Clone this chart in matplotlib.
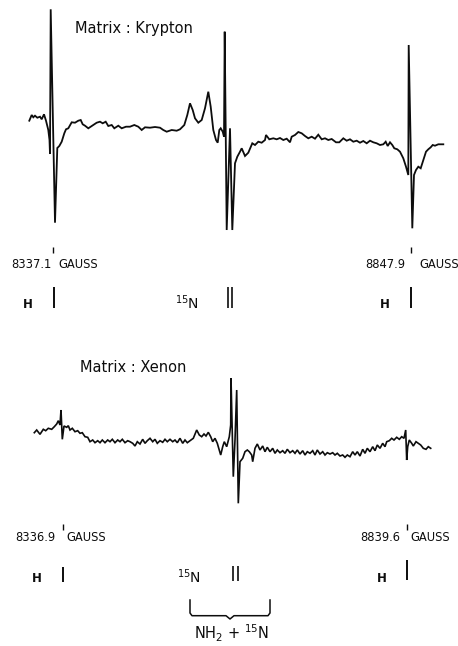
import numpy as np
import matplotlib
matplotlib.use("Agg")
import matplotlib.pyplot as plt

# Trace of the krypton spectrum (field position, signal)
kr_x = [29.3, 31.7, 33.3, 35, 37.3, 40, 41.7, 44, 46, 48.3, 49.5, 50, 50.7, 55,
        57.3, 59.3, 61.7, 64.3, 66, 68.3, 71.7, 75, 78.3, 80.7, 82.7, 85, 88.3,
        91.7, 96.7, 100, 102.7, 105.7, 108.3, 111.7, 114.3, 118.3, 121.7, 126,
        130, 134.3, 138.3, 141.7, 145, 150, 155, 160, 163.3, 166.7, 171.7, 176.7,
        180, 184.3, 187.3, 190, 192.7, 195, 198.3, 201.7, 205, 208.3, 210.7,
        213.3, 216, 217.7, 219.3, 220.7, 222.7, 224, 224.7, 226.7, 230, 232.3,
        235, 237.3, 240, 241.7, 245, 248.3, 252.3, 255, 258.3, 261.7, 265, 266,
        269.3, 273.3, 276.7, 280, 283.3, 286.7, 290, 291.7, 295, 298.3, 301.7,
        305, 308.3, 311.7, 315, 318.3, 321.7, 325, 328.3, 331.7, 336, 339.3,
        343.3, 346.7, 350, 353.3, 356.7, 360, 363.3, 366.7, 370, 373.3, 376.7,
        380, 383.3, 385.7, 387.7, 390, 392.3, 394.3, 397.3, 400, 403.3, 406,
        408.3, 408.7, 412.3, 414, 416, 418.3, 420.7, 423.3, 426, 428.3, 430.7,
        432.7, 435, 438.3, 443.3]
kr_y = [120.7, 115, 117.3, 115.7, 117.7, 116.7, 119.3, 114.3, 120.7, 130, 140,
        154, 9.3, 222.7, 148, 146, 141.7, 133.3, 129.3, 128.3, 122.3, 122.7,
        120.7, 120, 124.3, 125.7, 128.3, 126, 122.7, 121.7, 123.3, 121.7, 126,
        125, 128.3, 125.7, 128.3, 126.7, 126.7, 125, 126.7, 130, 127.3, 127.7,
        127, 127.7, 130, 131.7, 130, 130.7, 129.3, 125, 115, 103.3, 110, 118.3,
        122.7, 120, 108.3, 91.7, 106.7, 130, 140, 142.7, 130, 128.3, 131.7,
        136.7, 31.7, 230, 128.3, 230, 163.3, 156.7, 151.7, 148.3, 156, 152.7,
        143.3, 145, 141.7, 142.7, 140, 135, 139.3, 138.3, 139.3, 138, 140,
        138.7, 142.3, 136.7, 135, 132, 133.3, 136, 138.3, 136.7, 138.7, 134.7,
        139.3, 138.3, 140, 139, 142.3, 142.3, 138.3, 140.7, 139.3, 141.7, 140.7,
        142.7, 141, 143.3, 140.7, 142.3, 143.3, 145, 144.3, 141.7, 146, 142.3,
        145, 148.3, 149.3, 151.7, 158.3, 166.7, 175, 45, 228.3, 175, 170, 166.7,
        168.3, 160, 151.7, 149.3, 147.3, 145, 145.7, 144.3, 144.3]

# Trace of the xenon spectrum
xe_x = [34.3, 36.7, 40, 43.3, 45.7, 48.3, 51.7, 54.3, 56.7, 58.3, 60, 61, 62.3,
        64, 66.7, 68.3, 70, 72.3, 75, 77.7, 80, 82.3, 85, 87.7, 90, 92.7, 95,
        97.7, 100, 102.3, 105, 107.7, 110, 112.3, 115, 117.7, 120, 122.3, 125,
        127.7, 130, 132.7, 135, 137.3, 140, 142.7, 145, 147.3, 150, 152.7, 155,
        157.3, 160, 162.7, 165, 167.3, 170, 172.7, 175, 177.3, 180, 182.7, 185,
        187.3, 190, 193.3, 196.7, 199.3, 201.7, 204, 206, 208.3, 210.7, 212.7,
        215, 217.3, 220.7, 222.7, 224.3, 226.7, 229.3, 230.7, 231, 233.3, 235,
        236.7, 238.3, 240, 242.7, 245, 247.3, 249.3, 251.7, 252.7, 255, 257.3,
        260, 262.7, 265, 267.3, 270, 272.7, 275, 277.3, 280, 282.7, 285, 287.3,
        290, 292.7, 295, 297.3, 300, 302.7, 305, 307.3, 310, 312.7, 315, 317.3,
        320, 322.7, 325, 327.3, 330, 332.7, 335, 337.3, 340, 342.7, 345, 347.3,
        350, 352.7, 355, 357.3, 360, 362.7, 365, 367.3, 370, 372.7, 375, 377.3,
        380, 382.7, 385, 386.7, 389.3, 391.7, 394, 396.7, 399.3, 401.7, 404,
        405.7, 406.7, 407.7, 409.3, 411.7, 413.3, 416, 418.3, 420.7, 423.3, 426,
        428.3, 430.7]
xe_y = [432.7, 430, 434.3, 429.3, 430.7, 428.3, 429.3, 426.7, 424, 420.7, 425,
        410, 439.3, 426, 427.3, 425.7, 430, 428.3, 431.7, 430.7, 433.3, 432.7,
        436.7, 437.3, 441.7, 440, 442.7, 440.7, 442.7, 440, 442.7, 440, 441.7,
        439.3, 442.7, 440, 441.7, 439.3, 442.7, 440.7, 441.7, 443.3, 446, 441.7,
        444, 439.3, 443.3, 440.7, 438.3, 441.7, 439.3, 443.3, 440.7, 442.3,
        439.3, 441.7, 439.3, 441.7, 440, 442.7, 438.3, 443.3, 440, 442.7, 440.7,
        438.3, 430, 435, 436.7, 434, 436, 432.3, 436.7, 441.7, 438.3, 443.3, 455,
        446.7, 441.7, 446.7, 436.7, 425, 378.3, 476.7, 440, 390, 503.3, 461.7,
        458.3, 451.7, 450, 451.7, 455, 461.7, 448.3, 444, 450, 446, 451.7, 447.3,
        451.7, 448.3, 453.3, 450, 452.7, 450.7, 453.3, 449.3, 452.7, 450.7,
        453.3, 450, 454, 450.7, 455, 451.7, 453.3, 450.7, 455, 450, 454, 451.7,
        455, 452.7, 454, 452.7, 455, 453.3, 456, 455, 457.3, 455, 456.7, 451.7,
        455, 451.7, 456, 449.3, 453.3, 448.3, 451.7, 446.7, 450.7, 445, 448.3,
        443.3, 446.7, 441.7, 440.7, 438.3, 440, 437.3, 439.3, 436.7, 438.3, 430,
        460, 446.7, 440, 443.3, 446, 441.7, 443.3, 445, 448.3, 449.3, 446.7,
        448.3]

# Field markers
kr_fields = ["8337.1", "8847.9"]
xe_fields = ["8336.9", "8839.6"]

fig = plt.figure(figsize=(4.58, 6.46), dpi=100)
ax = fig.add_axes([0, 0, 1, 1])
ax.set_xlim(0, 458)
ax.set_ylim(646, 0)
ax.axis("off")

ink = "#0d0d0d"
ax.plot(kr_x, kr_y, color=ink, lw=1.3, solid_joinstyle="miter")
ax.plot(xe_x, xe_y, color=ink, lw=1.2, solid_joinstyle="miter")

# Panel titles
ax.text(75, 32.5, "Matrix : Krypton", fontsize=10.5, color=ink, va="baseline")
ax.text(80, 371.7, "Matrix : Xenon", fontsize=10.5, color=ink, va="baseline")

lab = dict(fontsize=8.3, color=ink, va="baseline")

# Krypton field scale
ax.text(11.7, 267.7, kr_fields[0], **lab)
ax.text(58.3, 267.7, "GAUSS", **lab)
ax.text(365.7, 267.7, kr_fields[1], **lab)
ax.text(419, 267.7, "GAUSS", **lab)
ax.vlines([53.3, 410.7], 246.7, 253.3, color=ink, lw=1.0)

# Krypton line assignments
hl = dict(fontsize=8.5, color=ink, va="baseline", fontweight="bold")
ax.text(23.3, 308.3, "H", **hl)
ax.text(380, 308.3, "H", **hl)
ax.text(175, 309.3, r"$^{15}$N", fontsize=10, color=ink, va="baseline")
ax.vlines([54.3, 410.7], 286.7, 308.3, color=ink, lw=1.4)
ax.vlines([227.7, 232.3], 286.7, 308.3, color=ink, lw=1.2)

# Xenon field scale
ax.text(15, 540.7, xe_fields[0], **lab)
ax.text(66.7, 540.7, "GAUSS", **lab)
ax.text(360, 540.7, xe_fields[1], **lab)
ax.text(410.7, 540.7, "GAUSS", **lab)
ax.vlines([63.3, 407.3], 524, 529.5, color=ink, lw=1.0)

# Xenon line assignments
ax.text(32.3, 581.7, "H", **hl)
ax.text(376.7, 581.7, "H", **hl)
ax.text(176.7, 583, r"$^{15}$N", fontsize=10, color=ink, va="baseline")
ax.vlines([63.3, 407.3], [566.7, 560], [581.7, 580], color=ink, lw=1.4)
ax.vlines([233.3, 237.7], 565.7, 581, color=ink, lw=1.2)

# Brace under the central pair
ax.plot([190, 190, 192, 226, 230, 234, 268, 270, 270],
        [600, 613, 615.7, 615.7, 619, 615.7, 615.7, 613, 600],
        color=ink, lw=1.1)
ax.text(194.3, 639.5, r"NH$_2$ + $^{15}$N", fontsize=10.5, color=ink,
        va="baseline")

fig.savefig("out.png", dpi=100, facecolor="white")
